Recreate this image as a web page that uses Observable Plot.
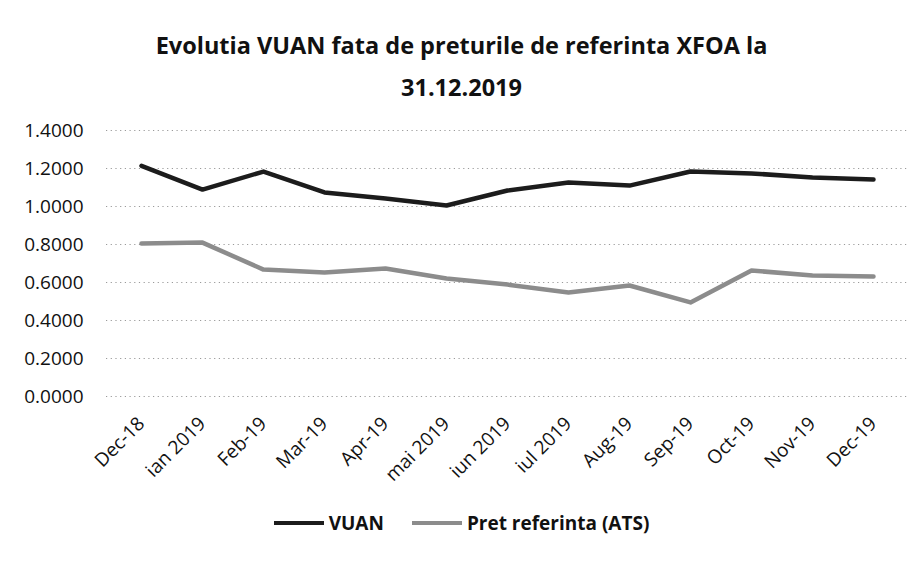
<!DOCTYPE html>
<html>
<head>
<meta charset="utf-8">
<script src="https://cdn.jsdelivr.net/npm/d3@7"></script>
<script src="https://cdn.jsdelivr.net/npm/@observablehq/plot@0.6"></script>
<style>
  body { margin: 0; background: #fff; font-family: "Open Sans", sans-serif; }
  #wrap { position: relative; width: 923px; height: 573px; overflow: hidden; }
  #title { position: absolute; left: 0; top: 24px; width: 923px; text-align: center;
           font-weight: bold; font-size: 23.5px; line-height: 42px; color: #111; }
  #chart { position: absolute; left: 0; top: 110px; }
  #legend { position: absolute; left: 0; top: 510px; width: 923px; display: flex;
            justify-content: center; align-items: center; font-weight: bold; font-size: 19px; color: #111; }
  .item { display: flex; align-items: center; margin: 0 14px; }
  .sw { display: inline-block; width: 50px; height: 4px; margin-right: 5px; }
</style>
</head>
<body>
<div id="wrap">
  <div id="title">Evolutia VUAN fata de preturile de referinta XFOA la<br>31.12.2019</div>
  <div id="chart"></div>
  <div id="legend"></div>
</div>
<script>
const months = ["Dec-18","ian 2019","Feb-19","Mar-19","Apr-19","mai 2019","iun 2019","iul 2019","Aug-19","Sep-19","Oct-19","Nov-19","Dec-19"];
const vuan = [1.214, 1.089, 1.184, 1.074, 1.042, 1.005, 1.084, 1.126, 1.110, 1.184, 1.174, 1.153, 1.142];
const ats  = [0.805, 0.810, 0.668, 0.653, 0.674, 0.621, 0.589, 0.547, 0.584, 0.495, 0.663, 0.637, 0.632];
const yTicks = [0, 0.2, 0.4, 0.6, 0.8, 1.0, 1.2, 1.4];
const seriesNames = ["VUAN", "Pret referinta (ATS)"];
const seriesColors = ["#1c1c1c", "#8c8c8c"];

const rows = [];
months.forEach((m, i) => {
  rows.push({month: m, value: vuan[i], series: seriesNames[0]});
  rows.push({month: m, value: ats[i], series: seriesNames[1]});
});

const plot = Plot.plot({
  width: 923,
  height: 400,
  marginTop: 20,
  marginBottom: 114,
  marginLeft: 106,
  marginRight: 15,
  style: {fontFamily: "Open Sans, sans-serif", color: "#111", background: "transparent"},
  x: {type: "point", domain: months, padding: 0.5},
  y: {domain: [0, 1.4]},
  color: {domain: seriesNames, range: seriesColors},
  marks: [
    Plot.ruleY(yTicks, {stroke: "#9a9a9a", strokeDasharray: "1.2 3.5", strokeWidth: 1}),
    Plot.axisY({ticks: yTicks, tickFormat: d => d.toFixed(4), tickSize: 0, tickPadding: 23, fontSize: 19, label: null}),
    Plot.axisX({tickRotate: -45, tickSize: 0, tickPadding: 24, fontSize: 19, label: null}),
    Plot.line(rows, {x: "month", y: "value", z: "series", stroke: "series", strokeWidth: 4.5, strokeLinejoin: "round", strokeLinecap: "round"})
  ]
});
document.getElementById("chart").appendChild(plot);

const legend = document.getElementById("legend");
seriesNames.forEach((s, i) => {
  const it = document.createElement("span");
  it.className = "item";
  const sw = document.createElement("span");
  sw.className = "sw";
  sw.style.background = seriesColors[i];
  it.appendChild(sw);
  it.appendChild(document.createTextNode(s));
  legend.appendChild(it);
});
</script>
</body>
</html>
